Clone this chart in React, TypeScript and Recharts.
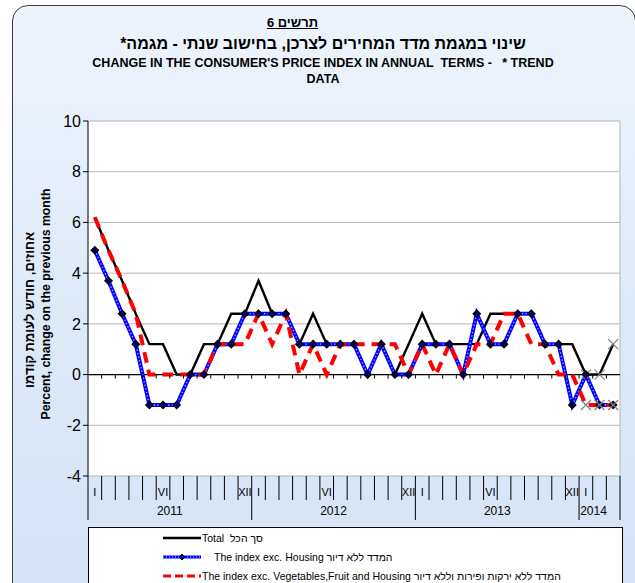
import React from "react";
import { LineChart, Line, XAxis, YAxis, CartesianGrid, ReferenceLine } from "recharts";

// Jan 2011 .. Mar 2014, monthly, annualised trend change (%)
const monthLabels = [
  "I", "", "", "", "", "VI", "", "", "", "", "", "XII",
  "I", "", "", "", "", "VI", "", "", "", "", "", "XII",
  "I", "", "", "", "", "VI", "", "", "", "", "", "XII",
  "I", "", "",
];
const years = ["2011", "2012", "2013", "2014"];

const total = [
  6.2, 4.9, 3.7, 2.4, 1.2, 1.2, 0, 0, 1.2, 1.2, 2.4, 2.4,
  3.7, 2.4, 2.4, 1.2, 2.4, 1.2, 1.2, 1.2, 0, 1.2, 0, 1.2,
  2.4, 1.2, 1.2, 1.2, 1.2, 2.4, 2.4, 2.4, 2.4, 1.2, 1.2, 1.2,
  0, 0, 1.2,
];
const excHousing = [
  4.9, 3.7, 2.4, 1.2, -1.2, -1.2, -1.2, 0, 0, 1.2, 1.2, 2.4,
  2.4, 2.4, 2.4, 1.2, 1.2, 1.2, 1.2, 1.2, 0, 1.2, 0, 0,
  1.2, 1.2, 1.2, 0, 2.4, 1.2, 1.2, 2.4, 2.4, 1.2, 1.2, -1.2,
  0, -1.2, -1.2,
];
const excVegFruitHousing = [
  6.2, 4.9, 3.7, 2.4, 0, 0, 0, 0, 0, 1.2, 1.2, 1.2,
  2.4, 1.2, 2.4, 0, 1.2, 0, 1.2, 1.2, 1.2, 1.2, 1.2, 0,
  1.2, 0, 1.2, 0, 1.2, 1.2, 2.4, 2.4, 1.2, 1.2, 0, 0,
  -1.2, -1.2, -1.2,
];
const yTicks = [-4, -2, 0, 2, 4, 6, 8, 10];
const provisionalFrom = 36;

const FONT = "'Liberation Sans', Arial, 'DejaVu Sans', sans-serif";
const W = 635;
const H = 583;
const PLOT_LEFT = 88;
const PLOT_RIGHT = 620;
const PLOT_TOP = 121;
const PLOT_BOTTOM = 476;
const N = total.length;
const BW = (PLOT_RIGHT - PLOT_LEFT) / N;
const ZERO_Y = PLOT_TOP + ((PLOT_BOTTOM - PLOT_TOP) * 10) / 14;

const data = total.map((t, i) => ({
  i,
  m: monthLabels[i],
  total: t,
  housing: excHousing[i],
  veg: excVegFruitHousing[i],
}));

const MonthTick = (props: any) => {
  const { x, payload } = props;
  const i = payload.value as number;
  const lx = x - BW / 2;
  const rx = x + BW / 2;
  const yearStart = i % 12 === 0;
  const yearIdx = Math.floor(i / 12);
  const yearEnd = Math.min(yearIdx * 12 + 12, N);
  return (
    <g>
      {i > 0 && <line x1={lx} x2={lx} y1={ZERO_Y} y2={ZERO_Y + 4} stroke="#000" strokeWidth={1} />}
      <line x1={lx} x2={lx} y1={PLOT_BOTTOM} y2={PLOT_BOTTOM + (yearStart ? 44 : 24)} stroke="#000" strokeWidth={1} />
      {i === N - 1 && <line x1={rx} x2={rx} y1={PLOT_BOTTOM} y2={PLOT_BOTTOM + 44} stroke="#000" strokeWidth={1} />}
      {monthLabels[i] && (
        <text x={x} y={PLOT_BOTTOM + 20} textAnchor="middle" fontSize={11} fontFamily={FONT} fill="#000">
          {monthLabels[i]}
        </text>
      )}
      {yearStart && (
        <text x={lx + ((yearEnd - i) * BW) / 2 - (yearEnd - i < 12 ? 6 : 0)} y={PLOT_BOTTOM + 39} textAnchor="middle" fontSize={12} fontFamily={FONT} fill="#000">
          {years[yearIdx]}
        </text>
      )}
    </g>
  );
};

const Diamond = (p: any) => {
  const { cx, cy, index } = p;
  if (cx == null || cy == null) return <g key={`dm-${index}`} />;
  const r = 3.6;
  return (
    <polygon
      key={`dm-${index}`}
      points={`${cx},${cy - r} ${cx + r},${cy} ${cx},${cy + r} ${cx - r},${cy}`}
      fill="#00006e"
      stroke="#000"
      strokeWidth={1.3}
    />
  );
};

const makeCross = (prefix: string) => (p: any) => {
  const { cx, cy, index } = p;
  if (cx == null || cy == null || index < provisionalFrom) return <g key={`${prefix}-${index}`} />;
  const r = 5;
  return (
    <g key={`${prefix}-${index}`} stroke="#808080" strokeWidth={1.2}>
      <line x1={cx - r} y1={cy - r} x2={cx + r} y2={cy + r} />
      <line x1={cx - r} y1={cy + r} x2={cx + r} y2={cy - r} />
    </g>
  );
};

const legendRows = [
  { label: "Total  סך הכל", kind: "total", indent: 0 },
  { label: "The index exc. Housing המדד ללא דיור", kind: "housing", indent: 12 },
  { label: "The index exc. Vegetables,Fruit and Housing המדד ללא ירקות ופירות וללא דיור", kind: "veg", indent: 0 },
];

const LegendSample = ({ kind }: { kind: string }) => (
  <svg width={38} height={8} style={{ display: "block" }}>
    {kind === "total" && <line x1={0} x2={38} y1={4} y2={4} stroke="#000" strokeWidth={2.5} />}
    {kind === "housing" && (
      <g>
        <line x1={0} x2={38} y1={4} y2={4} stroke="#0000ff" strokeWidth={3} />
        <line x1={0} x2={38} y1={4} y2={4} stroke="#b8c8ff" strokeWidth={1} strokeDasharray="1 2" />
        <polygon points="19,1 22,4 19,7 16,4" fill="#00006e" stroke="#000" strokeWidth={0.8} />
      </g>
    )}
    {kind === "veg" && <line x1={0} x2={38} y1={4} y2={4} stroke="#ff0000" strokeWidth={3} strokeDasharray="8 4" />}
  </svg>
);

export default function App() {
  return (
    <div style={{ position: "absolute", left: 0, top: 0, width: W, height: H, overflow: "hidden", background: "#fff", fontFamily: FONT }}>
      <div
        style={{
          position: "absolute",
          left: 12,
          top: 5,
          width: 622,
          height: 640,
          border: "1px solid #3a3a3a",
          borderRadius: 16,
          background: "linear-gradient(180deg, #eef4fc 0%, #dfeaf8 45%, #d3e2f5 100%)",
        }}
      />
      <div style={{ position: "absolute", left: 0, width: 585, top: 15, textAlign: "center", fontSize: 13, fontWeight: "bold", textDecoration: "underline", direction: "rtl" }}>
        תרשים 6
      </div>
      <div style={{ position: "absolute", left: 0, width: 646, top: 35, textAlign: "center", fontSize: 16, fontWeight: "bold", direction: "rtl" }}>
        שינוי במגמת מדד המחירים לצרכן, בחישוב שנתי - מגמה*
      </div>
      <div style={{ position: "absolute", left: 0, width: 646, top: 55, textAlign: "center", fontSize: 12.5, fontWeight: "bold", lineHeight: "16px", whiteSpace: "pre" }}>
        {"CHANGE IN THE CONSUMER'S PRICE INDEX IN ANNUAL  TERMS -   * TREND\nDATA"}
      </div>

      <div style={{ position: "absolute", left: 0, top: 0 }}>
        <LineChart width={W} height={H} data={data} margin={{ top: PLOT_TOP, right: W - PLOT_RIGHT, bottom: 57, left: 0 }}>
          <CartesianGrid horizontal vertical={false} stroke="#b5b5b5" fill="#ffffff" fillOpacity={1} />
          <XAxis
            type="number"
            dataKey="i"
            domain={[-0.5, N - 0.5]}
            ticks={data.map((d) => d.i)}
            interval={0}
            tickLine={false}
            axisLine={false}
            height={50}
            tick={<MonthTick />}
          />
          <YAxis
            domain={[-4, 10]}
            ticks={yTicks}
            width={PLOT_LEFT}
            tickSize={5}
            tickLine={{ stroke: "#000" }}
            axisLine={{ stroke: "#000" }}
            tick={{ fill: "#000", fontSize: 16, fontFamily: FONT }}
            interval={0}
          />
          <ReferenceLine x={N - 0.5} stroke="#b5b5b5" />
          <ReferenceLine y={0} stroke="#000" strokeWidth={1.2} />
          <Line dataKey="total" stroke="#000" strokeWidth={2.4} dot={makeCross("t")} activeDot={false} isAnimationActive={false} />
          <Line dataKey="housing" stroke="#0000ff" strokeWidth={4} dot={false} activeDot={false} isAnimationActive={false} />
          <Line dataKey="housing" stroke="#aebfff" strokeWidth={1.3} strokeDasharray="1.2 2.4" dot={<Diamond />} activeDot={false} isAnimationActive={false} legendType="none" />
          <Line dataKey="veg" stroke="#ff0000" strokeWidth={4} strokeDasharray="11 7" dot={makeCross("v")} activeDot={false} isAnimationActive={false} />
        </LineChart>
      </div>

      <div style={{ position: "absolute", left: 29, top: 310, transform: "translate(-50%, -50%) rotate(-90deg)", whiteSpace: "nowrap", fontSize: 13, fontWeight: "bold", direction: "rtl" }}>
        אחוזים, חודש לעומת קודמו
      </div>
      <div style={{ position: "absolute", left: 46, top: 304, transform: "translate(-50%, -50%) rotate(-90deg)", whiteSpace: "nowrap", fontSize: 12.3, fontWeight: "bold" }}>
        Percent, change on the previous month
      </div>

      <div style={{ position: "absolute", left: PLOT_LEFT, top: 527, width: 533, height: 70, border: "1px solid #000", background: "#fff" }}>
        {legendRows.map((r, k) => (
          <div key={r.kind} style={{ position: "absolute", left: 74, top: 3 + k * 19, height: 14, display: "flex", alignItems: "center", whiteSpace: "pre", fontSize: 10.5 }}>
            <LegendSample kind={r.kind} />
            <span style={{ marginLeft: 1 + r.indent }}>{r.label}</span>
          </div>
        ))}
      </div>
    </div>
  );
}
